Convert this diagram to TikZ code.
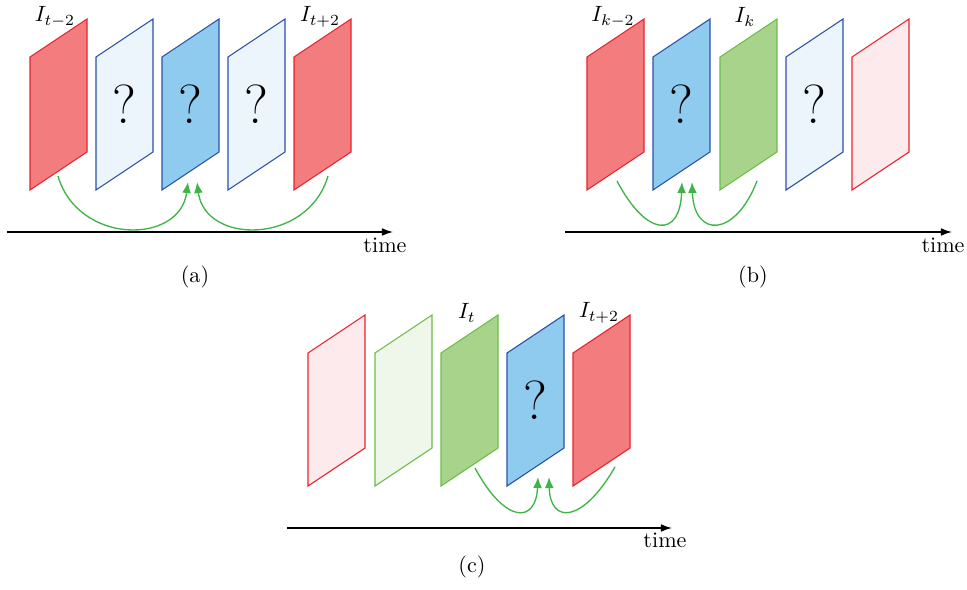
\documentclass[tikz,border=0pt]{standalone}
\usepackage{amsmath}
\usepackage{xcolor}
\usepackage{tikz}
\usetikzlibrary{arrows.meta,calc,positioning}

\definecolor{redline}{RGB}{232,36,44}
\definecolor{redfill}{RGB}{242,124,126}
\definecolor{redpale}{RGB}{253,234,237}
\definecolor{blueline}{RGB}{42,82,168}
\definecolor{bluefill}{RGB}{143,203,239}
\definecolor{bluepale}{RGB}{237,245,252}
\definecolor{greenline}{RGB}{108,190,72}
\definecolor{greenfill}{RGB}{168,211,138}
\definecolor{greenpale}{RGB}{239,247,234}
\definecolor{flowgreen}{RGB}{60,180,70}

\tikzset{
  redfr/.style={draw=redline, fill=redfill},
  redpl/.style={draw=redline, fill=redpale},
  bluefr/.style={draw=blueline, fill=bluefill},
  bluepl/.style={draw=blueline, fill=bluepale},
  greenfr/.style={draw=greenline, fill=greenfill},
  greenpl/.style={draw=greenline, fill=greenpale},
  imgframe/.pic={
    \draw[line width=0.5pt, #1] (0,0) -- (57,-38) -- (57,95) -- (0,133) -- cycle;
    \coordinate (-c) at (28.5,47.5);
  },
  qmark/.style={font=\Huge},
  lbl/.style={inner sep=1pt},
  flow/.style={draw=flowgreen, line width=0.6pt, -{Latex[length=5pt,width=4pt]}},
  timeax/.style={line width=0.6pt, -{Latex[length=5pt,width=3.5pt]}},
}

\begin{document}
\begin{tikzpicture}[x=0.452pt, y=-0.452pt]
  \useasboundingbox (0,0) rectangle (967,590);

  % (a)
  \pic (a1) at (30,57)  {imgframe=redfr};
  \pic (a2) at (96,57)  {imgframe=bluepl};
  \pic (a3) at (162,57) {imgframe=bluefr};
  \pic (a4) at (228,57) {imgframe=bluepl};
  \pic (a5) at (294,57) {imgframe=redfr};

  \node[qmark] (qa2) at (a2-c) {?};
  \node[qmark] (qa3) at (a3-c) {?};
  \node[qmark] (qa4) at (a4-c) {?};

  \node[lbl] (la1) at (55,17)  {$I_{t-2}$};
  \node[lbl] (la5) at (320,17) {$I_{t+2}$};

  \coordinate (fa1) at (58,176);
  \coordinate (fa2) at (188,182);
  \coordinate (fa3) at (197,182);
  \coordinate (fa4) at (328,176);
  \draw[flow] (fa1) .. controls (78,245) and (180,245) .. (fa2);
  \draw[flow] (fa4) .. controls (308,245) and (205,245) .. (fa3);

  \coordinate (ta0) at (7,232);
  \coordinate (ta1) at (393,232);
  \draw[timeax] (ta0) -- (ta1);
  \node (tla) at (385,245) {time};
  \node (capa) at (195,277) {(a)};

  % (b)
  \pic (b1) at (587,57) {imgframe=redfr};
  \pic (b2) at (653,57) {imgframe=bluefr};
  \pic (b3) at (720,57) {imgframe=greenfr};
  \pic (b4) at (786,57) {imgframe=bluepl};
  \pic (b5) at (852,57) {imgframe=redpl};

  \node[qmark] (qb2) at (b2-c) {?};
  \node[qmark] (qb4) at (b4-c) {?};

  \node[lbl] (lb1) at (613,17) {$I_{k-2}$};
  \node[lbl] (lb3) at (745,17) {$I_k$};

  \coordinate (fb1) at (617,181);
  \coordinate (fb2) at (682,182);
  \coordinate (fb3) at (692,182);
  \coordinate (fb4) at (757,181);
  \draw[flow] (fb1) .. controls (647,238) and (680,238) .. (fb2);
  \draw[flow] (fb4) .. controls (735,238) and (694,238) .. (fb3);

  \coordinate (tb0) at (565,232);
  \coordinate (tb1) at (952,232);
  \draw[timeax] (tb0) -- (tb1);
  \node (tlb) at (943,245) {time};
  \node (capb) at (753,277) {(b)};

  % (c)
  \pic (c1) at (308,353) {imgframe=redpl};
  \pic (c2) at (375,353) {imgframe=greenpl};
  \pic (c3) at (441,353) {imgframe=greenfr};
  \pic (c4) at (507,353) {imgframe=bluefr};
  \pic (c5) at (573,353) {imgframe=redfr};

  \node[qmark] (qc4) at (c4-c) {?};

  \node[lbl] (lc3) at (467,313) {$I_t$};
  \node[lbl] (lc5) at (599,313) {$I_{t+2}$};

  \coordinate (fc1) at (475,468);
  \coordinate (fc2) at (538,477);
  \coordinate (fc3) at (549,477);
  \coordinate (fc4) at (615,467);
  \draw[flow] (fc1) .. controls (505,524) and (536,524) .. (fc2);
  \draw[flow] (fc4) .. controls (582,524) and (550,524) .. (fc3);

  \coordinate (tc0) at (287,528);
  \coordinate (tc1) at (672,528);
  \draw[timeax] (tc0) -- (tc1);
  \node (tlc) at (665,540) {time};
  \node (capc) at (472,567) {(c)};

\end{tikzpicture}
\end{document}
